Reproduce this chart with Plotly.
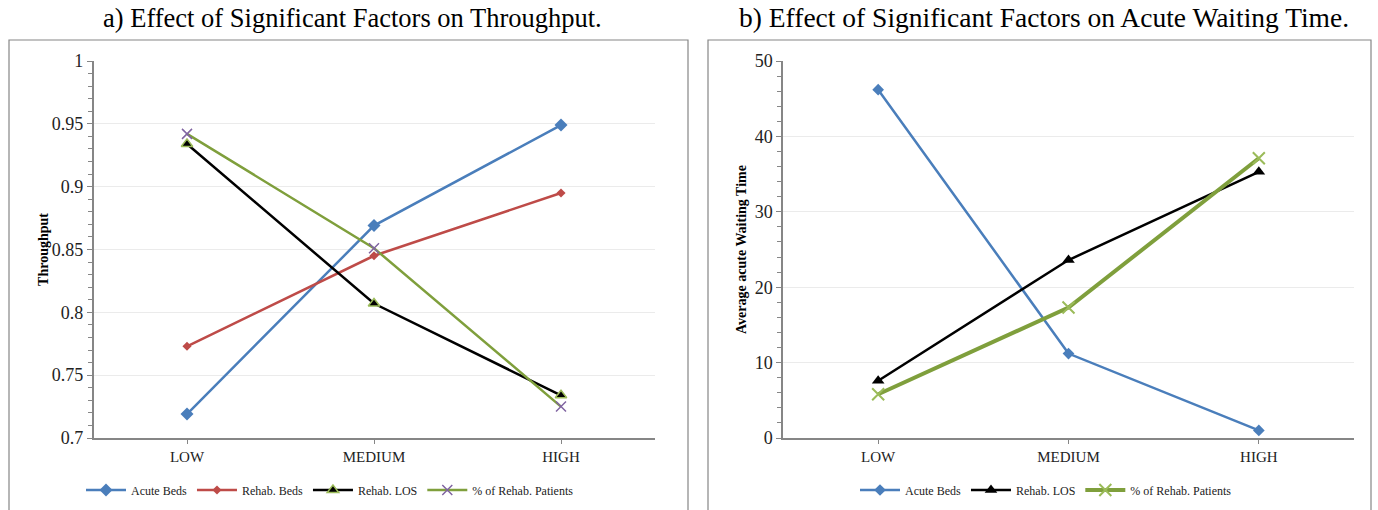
import plotly.graph_objects as go

levels = ["LOW", "MEDIUM", "HIGH"]

# Panel a) Throughput
tp_acute_beds = [0.719, 0.869, 0.949]
tp_rehab_beds = [0.773, 0.845, 0.895]
tp_rehab_los = [0.934, 0.807, 0.734]
tp_pct_rehab = [0.942, 0.851, 0.725]
tp_ticks = [0.7, 0.75, 0.8, 0.85, 0.9, 0.95, 1.0]
tp_ticktext = ["0.7", "0.75", "0.8", "0.85", "0.9", "0.95", "1"]

# Panel b) Acute waiting time
wt_acute_beds = [46.2, 11.2, 1.0]
wt_rehab_los = [7.6, 23.6, 35.3]
wt_pct_rehab = [5.8, 17.3, 37.1]
wt_ticks = [0, 10, 20, 30, 40, 50]

W, H = 1378, 510
BLUE = "#4a7ebb"
RED = "#be4b48"
GREEN = "#7f9f3c"
LGREEN = "#9bbb59"
PURPLE = "#8064a2"
AX = "#868686"
FONT = "Liberation Serif, Times New Roman, Times, DejaVu Serif, serif"

def px_x(p):
    return p / W

def px_y(p):
    return 1 - p / H

fig = go.Figure()

# Left panel traces
fig.add_trace(go.Scatter(x=levels, y=tp_acute_beds, name="Acute Beds", mode="lines+markers",
                         line=dict(color=BLUE, width=2.5),
                         marker=dict(symbol="diamond", size=10, color=BLUE),
                         xaxis="x", yaxis="y", legend="legend"))
fig.add_trace(go.Scatter(x=levels, y=tp_rehab_beds, name="Rehab. Beds", mode="lines+markers",
                         line=dict(color=RED, width=2.5),
                         marker=dict(symbol="diamond", size=7, color=RED),
                         xaxis="x", yaxis="y", legend="legend"))
fig.add_trace(go.Scatter(x=levels, y=tp_rehab_los, name="Rehab. LOS", mode="lines+markers",
                         line=dict(color="black", width=2.5),
                         marker=dict(symbol="triangle-up", size=10, color="black",
                                     line=dict(color=LGREEN, width=1.5)),
                         xaxis="x", yaxis="y", legend="legend"))
fig.add_trace(go.Scatter(x=levels, y=tp_pct_rehab, name="% of Rehab. Patients", mode="lines+markers",
                         line=dict(color=GREEN, width=2.5),
                         marker=dict(symbol="x-thin", size=10, color=PURPLE,
                                     line=dict(color=PURPLE, width=1.5)),
                         xaxis="x", yaxis="y", legend="legend"))

# Right panel traces
fig.add_trace(go.Scatter(x=levels, y=wt_acute_beds, name="Acute Beds", mode="lines+markers",
                         line=dict(color=BLUE, width=2.5),
                         marker=dict(symbol="diamond", size=9, color=BLUE),
                         xaxis="x2", yaxis="y2", legend="legend2"))
fig.add_trace(go.Scatter(x=levels, y=wt_rehab_los, name="Rehab. LOS", mode="lines+markers",
                         line=dict(color="black", width=2.5),
                         marker=dict(symbol="triangle-up", size=11, color="black"),
                         xaxis="x2", yaxis="y2", legend="legend2"))
fig.add_trace(go.Scatter(x=levels, y=wt_pct_rehab, name="% of Rehab. Patients", mode="lines+markers",
                         line=dict(color=GREEN, width=4),
                         marker=dict(symbol="x-thin", size=12, color=LGREEN,
                                     line=dict(color=LGREEN, width=2)),
                         xaxis="x2", yaxis="y2", legend="legend2"))

xtickfont = dict(family=FONT, size=15, color="#222")
ytickfont = dict(family=FONT, size=18, color="#222")
ydom = [px_y(438), px_y(61)]

def xaxis(domain, anchor):
    return dict(domain=domain, anchor=anchor, type="category", showline=True, linecolor=AX,
                linewidth=1.5, ticks="outside", ticklen=4, tickcolor=AX, showgrid=False,
                tickfont=xtickfont, range=[-0.5, 2.5], fixedrange=True, automargin=False)

fig.update_layout(
    template="none",
    width=W, height=H,
    autosize=False,
    margin=dict(l=0, r=0, t=0, b=0, pad=0),
    paper_bgcolor="white", plot_bgcolor="white",
    font=dict(family=FONT, color="#222"),
    xaxis=xaxis([px_x(93.5), px_x(654.5)], "y"),
    xaxis2=xaxis([px_x(783), px_x(1354)], "y2"),
    yaxis=dict(domain=ydom, anchor="x", range=[0.7, 1.0], tickvals=tp_ticks, ticktext=tp_ticktext,
               showline=True, linecolor=AX, linewidth=1.5, ticks="outside", ticklen=5, tickcolor=AX,
               showgrid=True, gridcolor="#ebebeb", gridwidth=1, zeroline=False, automargin=False,
               minor=dict(dtick=0.01, ticks="outside", ticklen=4, tickcolor=AX, showgrid=False),
               tickfont=ytickfont,
               title=dict(text="<b>Throughput</b>", font=dict(family=FONT, size=14, color="black"), standoff=0)),
    yaxis2=dict(domain=ydom, anchor="x2", range=[0, 50], tickvals=wt_ticks,
                showline=True, linecolor=AX, linewidth=1.5, ticks="outside", ticklen=5, tickcolor=AX,
                showgrid=True, gridcolor="#ebebeb", gridwidth=1, zeroline=False, automargin=False,
                minor=dict(dtick=2, ticks="outside", ticklen=4, tickcolor=AX, showgrid=False),
                tickfont=ytickfont,
                title=dict(text="<b>Average acute Waiting Time</b>", font=dict(family=FONT, size=14, color="black"), standoff=5)),
    legend=dict(orientation="h", x=px_x(330), xanchor="center", y=px_y(490), yanchor="middle",
                font=dict(family=FONT, size=12, color="#222"), bgcolor="rgba(0,0,0,0)",
                itemwidth=40, tracegroupgap=0),
    legend2=dict(orientation="h", x=px_x(1046), xanchor="center", y=px_y(490), yanchor="middle",
                 font=dict(family=FONT, size=12, color="#222"), bgcolor="rgba(0,0,0,0)",
                 itemwidth=40, tracegroupgap=0),
    shapes=[
        dict(type="rect", xref="paper", yref="paper", x0=px_x(9), x1=px_x(688), y0=px_y(512), y1=px_y(40),
             line=dict(color=AX, width=1.2), fillcolor="rgba(0,0,0,0)", layer="below"),
        dict(type="rect", xref="paper", yref="paper", x0=px_x(708), x1=px_x(1371), y0=px_y(512), y1=px_y(40),
             line=dict(color=AX, width=1.2), fillcolor="rgba(0,0,0,0)", layer="below"),
    ],
    annotations=[
        dict(text="a) Effect of Significant Factors on Throughput.", xref="paper", yref="paper",
             x=px_x(352), y=px_y(18), xanchor="center", yanchor="middle", showarrow=False,
             font=dict(family=FONT, size=26.5, color="black")),
        dict(text="b) Effect of Significant Factors on Acute Waiting Time.", xref="paper", yref="paper",
             x=px_x(1044), y=px_y(18), xanchor="center", yanchor="middle", showarrow=False,
             font=dict(family=FONT, size=27.5, color="black")),
    ],
)

fig.write_html("out.html", config={"displayModeBar": False},
               post_script="document.body.style.margin='0';document.body.style.overflow='hidden';")
